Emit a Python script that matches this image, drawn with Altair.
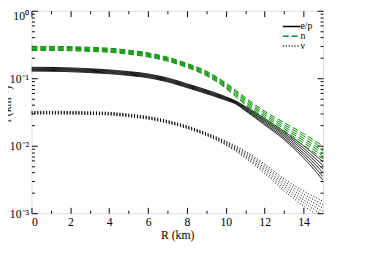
import altair as alt
import pandas as pd

R = [0, 1, 2, 3, 4, 5, 6, 7, 8, 9, 10, 10.5, 11, 12, 13, 14, 15]

# e/p (black solid) — six curves
ep = [
    [0.1452, 0.1445, 0.1422, 0.1380, 0.1327, 0.1253, 0.1156, 0.1007, 0.0828, 0.0673, 0.0531, 0.0462, 0.0382, 0.0254, 0.0163, 0.0100, 0.0058],
    [0.1415, 0.1409, 0.1386, 0.1345, 0.1294, 0.1221, 0.1127, 0.0981, 0.0807, 0.0656, 0.0519, 0.0453, 0.0371, 0.0243, 0.0154, 0.0092, 0.0051],
    [0.1379, 0.1373, 0.1351, 0.1311, 0.1261, 0.1190, 0.1098, 0.0956, 0.0786, 0.0639, 0.0507, 0.0444, 0.0361, 0.0233, 0.0146, 0.0085, 0.0045],
    [0.1344, 0.1338, 0.1317, 0.1278, 0.1229, 0.1160, 0.1070, 0.0932, 0.0766, 0.0623, 0.0495, 0.0435, 0.0350, 0.0223, 0.0138, 0.0078, 0.0040],
    [0.1310, 0.1304, 0.1283, 0.1245, 0.1197, 0.1130, 0.1043, 0.0908, 0.0747, 0.0607, 0.0484, 0.0426, 0.0341, 0.0213, 0.0130, 0.0072, 0.0035],
    [0.1276, 0.1271, 0.1250, 0.1213, 0.1167, 0.1102, 0.1016, 0.0885, 0.0728, 0.0592, 0.0473, 0.0418, 0.0331, 0.0204, 0.0123, 0.0066, 0.0031],
]

# n (green dashed) — six curves
nn = [
    [0.2965, 0.2965, 0.2938, 0.2871, 0.2786, 0.2606, 0.2377, 0.2056, 0.1660, 0.1279, 0.0855, 0.0673, 0.0520, 0.0325, 0.0220, 0.0151, 0.0099],
    [0.2884, 0.2884, 0.2858, 0.2793, 0.2710, 0.2535, 0.2312, 0.2000, 0.1614, 0.1239, 0.0824, 0.0643, 0.0494, 0.0306, 0.0205, 0.0140, 0.0091],
    [0.2805, 0.2805, 0.2780, 0.2716, 0.2636, 0.2466, 0.2249, 0.1945, 0.1570, 0.1200, 0.0794, 0.0614, 0.0470, 0.0288, 0.0191, 0.0129, 0.0083],
    [0.2729, 0.2729, 0.2704, 0.2642, 0.2564, 0.2399, 0.2188, 0.1892, 0.1528, 0.1161, 0.0766, 0.0586, 0.0447, 0.0272, 0.0179, 0.0120, 0.0076],
    [0.2655, 0.2655, 0.2630, 0.2570, 0.2495, 0.2333, 0.2128, 0.1841, 0.1486, 0.1125, 0.0738, 0.0560, 0.0425, 0.0256, 0.0167, 0.0111, 0.0070],
    [0.2582, 0.2582, 0.2559, 0.2500, 0.2427, 0.2270, 0.2070, 0.1791, 0.1445, 0.1089, 0.0711, 0.0535, 0.0404, 0.0241, 0.0156, 0.0102, 0.0064],
]

# nu (black dotted) — six curves
nu = [
    [0.03236, 0.03236, 0.03221, 0.03184, 0.03126, 0.02951, 0.02716, 0.02371, 0.01972, 0.01549, 0.01175, 0.01000, 0.00832, 0.00537, 0.00324, 0.00214, 0.00151],
    [0.03177, 0.03177, 0.03162, 0.03126, 0.03069, 0.02897, 0.02667, 0.02328, 0.01936, 0.01521, 0.01143, 0.00964, 0.00794, 0.00504, 0.00298, 0.00193, 0.00134],
    [0.03119, 0.03119, 0.03105, 0.03069, 0.03013, 0.02844, 0.02618, 0.02286, 0.01901, 0.01493, 0.01112, 0.00929, 0.00759, 0.00472, 0.00274, 0.00175, 0.00119],
    [0.03062, 0.03062, 0.03048, 0.03013, 0.02958, 0.02793, 0.02570, 0.02244, 0.01866, 0.01466, 0.01081, 0.00895, 0.00724, 0.00443, 0.00252, 0.00158, 0.00106],
    [0.03006, 0.03006, 0.02992, 0.02958, 0.02904, 0.02742, 0.02523, 0.02203, 0.01832, 0.01439, 0.01052, 0.00863, 0.00692, 0.00415, 0.00232, 0.00143, 0.00094],
    [0.02951, 0.02951, 0.02938, 0.02904, 0.02851, 0.02692, 0.02477, 0.02163, 0.01799, 0.01413, 0.01023, 0.00832, 0.00661, 0.00389, 0.00214, 0.00129, 0.00083],
]

families = ["e/p", "n", "ν"]
colors = ["black", "#009000", "black"]
dashes = [[1, 0], [6, 3], [1, 2]]

x_major = [0, 2, 4, 6, 8, 10, 12, 14]
x_minor = [1, 3, 5, 7, 9, 11, 13]
y_major = [1, 0.1, 0.01, 0.001]
y_minor = [0.002, 0.003, 0.004, 0.005, 0.006, 0.007, 0.008, 0.009,
           0.02, 0.03, 0.04, 0.05, 0.06, 0.07, 0.08, 0.09,
           0.2, 0.3, 0.4, 0.5, 0.6, 0.7, 0.8, 0.9]

rows = []
for fam, group in zip(families, [ep, nn, nu]):
    for i, vals in enumerate(group):
        for r, v in zip(R, vals):
            rows.append({"R": r, "v": v, "fam": fam, "line": f"{fam}-{i}"})
df = pd.DataFrame(rows)

W, H = 298, 207
FONT = "Liberation Serif, Times New Roman, serif"

xs = alt.Scale(domain=[0, 15], nice=False, zero=False)
ys = alt.Scale(type="log", domain=[0.001, 1], nice=False)

label_expr = ("datum.value >= 0.99 ? '10⁰' : datum.value >= 0.099 ? '10⁻¹' : "
              "datum.value >= 0.0099 ? '10⁻²' : '10⁻³'")

legend_kw = dict(title=None, orient="none", legendX=261, legendY=11,
                 symbolType="M-3,0H3", symbolSize=36, symbolStrokeWidth=1.5,
                 labelFont=FONT, labelFontSize=10, labelColor="black",
                 rowPadding=-6, labelOffset=4, padding=0)

lines = alt.Chart(df).mark_line(clip=True, strokeWidth=1, interpolate="monotone").encode(
    x=alt.X("R:Q", scale=xs, axis=alt.Axis(
        values=x_major, tickSize=0, domain=False, grid=False, labelFont=FONT,
        labelFontSize=12, labelColor="black", labelPadding=4, title="R (km)",
        titleFont=FONT, titleFontSize=12, titleFontWeight="normal", titleColor="black",
        titlePadding=2)),
    y=alt.Y("v:Q", scale=ys, axis=alt.Axis(
        values=y_major, labelExpr=label_expr, tickSize=0, domain=False, grid=False,
        labelFont=FONT, labelFontSize=12, labelColor="black", labelPadding=3,
        labelBaseline={"condition": {"test": "datum.value >= 0.99", "value": "top"},
                       "value": "middle"},
        title="l (km⁻¹)", titleFont=FONT, titleFontSize=12, titleFontWeight="normal",
        titleColor="black", titleX=-18, titleY=95)),
    color=alt.Color("fam:N", scale=alt.Scale(domain=families, range=colors),
                    legend=alt.Legend(**legend_kw)),
    strokeDash=alt.StrokeDash("fam:N", scale=alt.Scale(domain=families, range=dashes),
                              legend=alt.Legend(**legend_kw)),
    detail="line:N",
)


def tick_layer(xorient, xoff, xvals, yorient, yoff, yvals, size):
    return alt.Chart(df).mark_point(opacity=0).encode(
        x=alt.X("R:Q", scale=xs, axis=alt.Axis(
            orient=xorient, offset=xoff, values=xvals, tickSize=size, labels=False,
            domain=False, grid=False, title=None, tickColor="black", tickWidth=1)),
        y=alt.Y("v:Q", scale=ys, axis=alt.Axis(
            orient=yorient, offset=yoff, values=yvals, tickSize=size, labels=False,
            domain=False, grid=False, title=None, tickColor="black", tickWidth=1)),
    )


t1 = tick_layer("top", -H, x_major, "right", -W, y_major, 6)
t2 = tick_layer("top", -H, x_minor, "right", -W, y_minor, 3)
t3 = tick_layer("bottom", -H, x_major, "left", -W, y_major, 6)
t4 = tick_layer("bottom", -H, x_minor, "left", -W, y_minor, 3)

chart = alt.layer(lines, t1, t2, t3, t4).resolve_axis(
    x="independent", y="independent"
).properties(
    width=W, height=H,
    autosize=alt.AutoSizeParams(type="none"),
    padding={"left": 24, "top": 0, "right": 43, "bottom": 45},
).configure_view(stroke="black", strokeWidth=1).configure(background="white")

chart.save("out.html", embed_options={"renderer": "svg", "actions": False})
